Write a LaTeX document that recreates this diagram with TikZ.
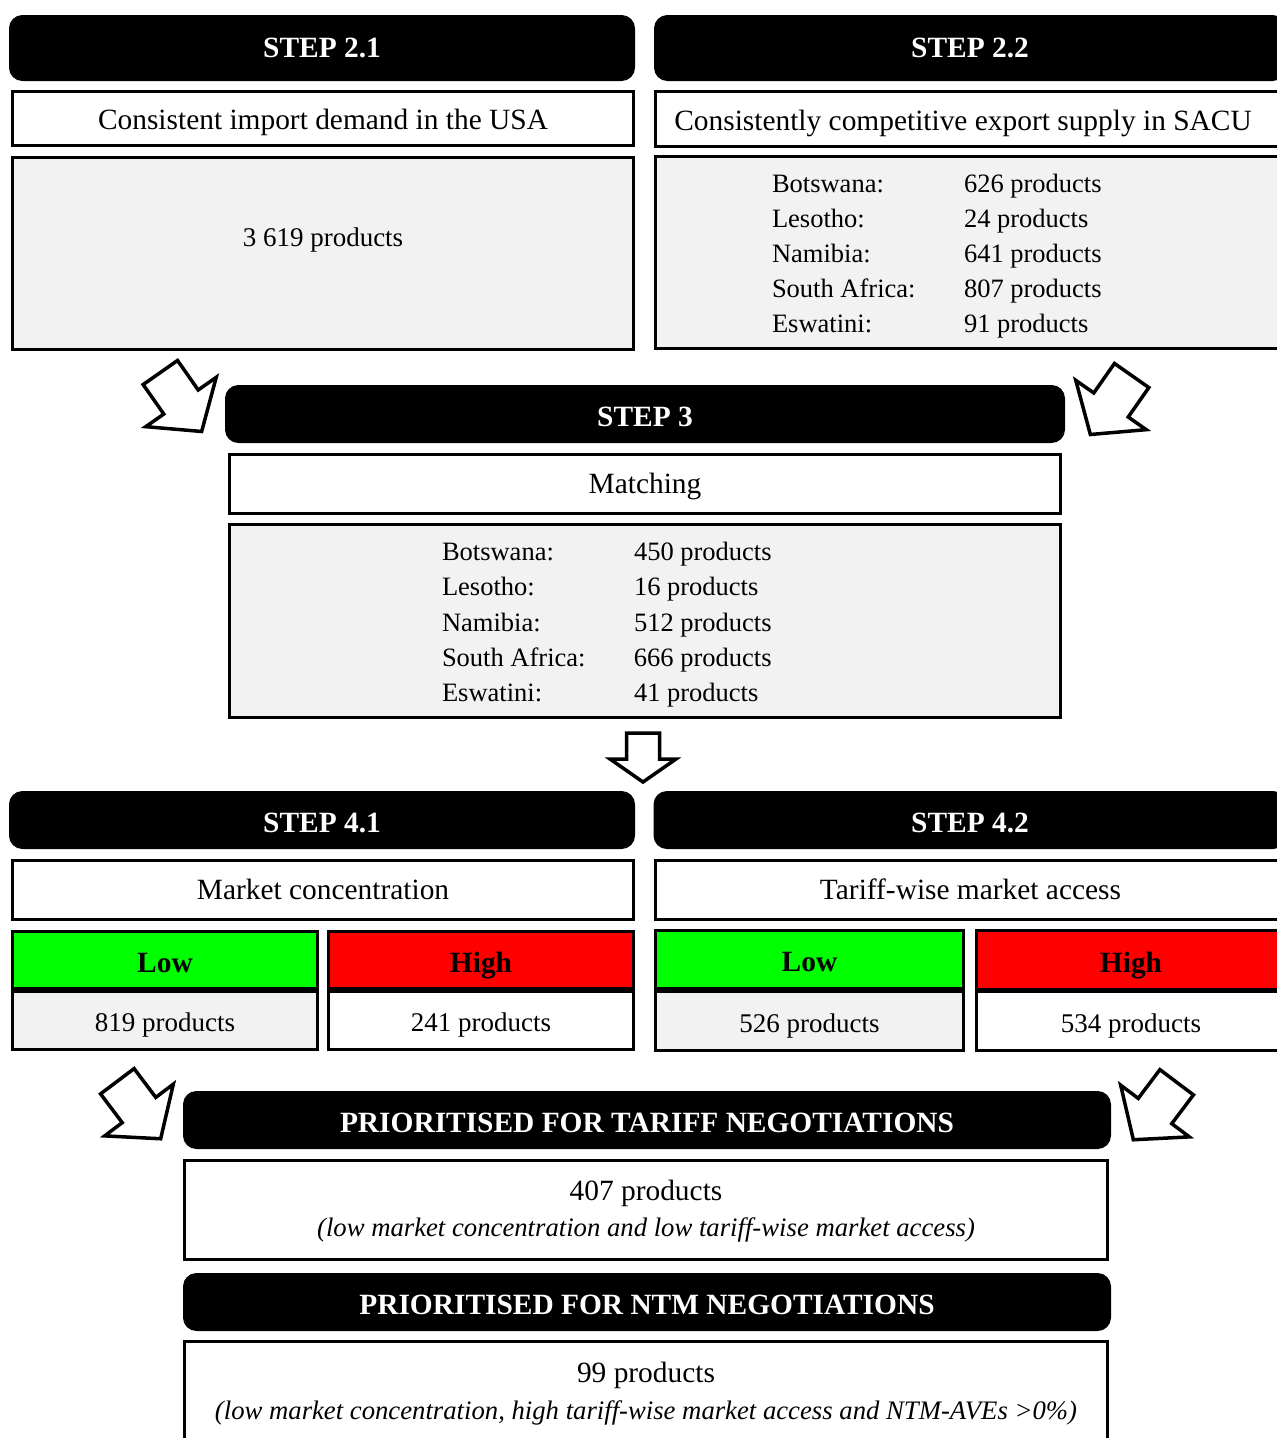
\documentclass[tikz,border=0pt]{standalone}
\usepackage{fontspec}
\setmainfont{Liberation Serif}
\definecolor{boxgrey}{HTML}{F2F2F2}
\definecolor{lowgreen}{HTML}{00FF00}
\definecolor{highred}{HTML}{FF0000}
\begin{document}
\begin{tikzpicture}[x=1pt,y=-1pt,
  every node/.style={inner sep=0pt, outer sep=0pt},
  header/.style={fill=black, draw=black, line width=1pt, rounded corners=13pt,
    text=white, font=\fontsize{29.4}{34}\selectfont\bfseries,
    text height=25.5pt, text depth=0pt},
  box/.style={draw=black, line width=3pt, fill=white,
    font=\fontsize{29.4}{34}\selectfont, text height=22pt, text depth=4pt},
  greybox/.style={box, fill=boxgrey},
  countbox/.style={box, font=\fontsize{27}{32}\selectfont, text height=26pt},
  greycount/.style={countbox, fill=boxgrey},
  lowbox/.style={box, fill=lowgreen, font=\fontsize{29.4}{34}\selectfont\bfseries, text height=28pt},
  highbox/.style={box, fill=highred, font=\fontsize{29.4}{34}\selectfont\bfseries, text height=28pt},
  plain/.style={font=\fontsize{27}{32}\selectfont},
  bigplain/.style={font=\fontsize{29.4}{34}\selectfont},
  note/.style={font=\fontsize{26.7}{30}\selectfont\itshape},
  list/.style={anchor=west, font=\fontsize{26.5}{35.2}\selectfont},
  arrowline/.style={draw=black, fill=white, line width=3.5pt, line join=miter},
  pics/bigarrow/.style={code={
    \draw[arrowline] (-21,-36) -- (21,-36) -- (21,0) -- (43,0) -- (0,36)
      -- (-43,0) -- (-21,0) -- cycle;}},
  pics/smallarrow/.style={code={
    \draw[arrowline] (-16.5,-25) -- (16.5,-25) -- (16.5,1) -- (33,1) -- (0,24)
      -- (-33,1) -- (-16.5,1) -- cycle;}}
]
\useasboundingbox (0,0) rectangle (1277,1438);
\clip (0,0) rectangle (1277,1438);

% ---- Step 2.1 / 2.2 ----
\node[header, minimum width=625pt, minimum height=65pt, text height=18pt] (h21) at (322,48) {STEP 2.1};
\node[header, minimum width=631pt, minimum height=65pt, text height=18pt] (h22) at (970,48) {STEP 2.2};
\node[box, minimum width=621pt, minimum height=54pt, text height=26pt] (s21) at (323,118.5) {Consistent import demand in the USA};
\node[box, minimum width=630pt, minimum height=55pt] (s22) at (970.5,119) {};
\node[bigplain, text height=26pt, text depth=4pt] (t22) at (963,119) {Consistently competitive export supply in SACU};
\node[greybox, minimum width=621pt, minimum height=192pt] (c21) at (323,253.5) {};
\node[plain] (t21) at (323,240) {3 619 products};
\node[greybox, minimum width=630pt, minimum height=192pt] (c22) at (970.5,252.5) {};
\node[list] (l22) at (772,255.5) {\begin{tabular}{@{}p{192pt}@{}l@{}}
  Botswana: & 626 products\\
  Lesotho: & 24 products\\
  Namibia: & 641 products\\
  South Africa: & 807 products\\
  Eswatini: & 91 products
\end{tabular}};

% ---- arrows into step 3 ----
\pic[rotate=35] (aUL) at (181,402) {bigarrow};
\pic[rotate=-35] (aUR) at (1111,405) {bigarrow};

% ---- Step 3 ----
\node[header, minimum width=839pt, minimum height=57pt] (h3) at (645,414) {STEP 3};
\node[box, minimum width=831pt, minimum height=59pt] (s3) at (645,484) {Matching};
\node[greybox, minimum width=831pt, minimum height=193pt] (c3) at (645,621) {};
\node[list] (l3) at (442,624) {\begin{tabular}{@{}p{192pt}@{}l@{}}
  Botswana: & 450 products\\
  Lesotho: & 16 products\\
  Namibia: & 512 products\\
  South Africa: & 666 products\\
  Eswatini: & 41 products
\end{tabular}};

\pic (aM) at (643,758) {smallarrow};

% ---- Step 4.1 / 4.2 ----
\node[header, minimum width=625pt, minimum height=57pt] (h41) at (322,820) {STEP 4.1};
\node[header, minimum width=632pt, minimum height=57pt] (h42) at (970,820) {STEP 4.2};
\node[box, minimum width=621pt, minimum height=59pt] (s41) at (323,890) {Market concentration};
\node[box, minimum width=630pt, minimum height=59pt] (s42) at (970.5,890) {Tariff-wise market access};

\node[lowbox, minimum width=305pt, minimum height=57pt] (low41) at (165,960) {Low};
\node[greycount, minimum width=305pt, minimum height=58pt] (n41a) at (165,1020.5) {819 products};
\node[highbox, minimum width=305pt, minimum height=57pt] (high41) at (481,960) {High};
\node[countbox, minimum width=305pt, minimum height=58pt] (n41b) at (481,1020.5) {241 products};

\node[lowbox, minimum width=308pt, minimum height=58pt] (low42) at (809.5,959.5) {Low};
\node[greycount, minimum width=308pt, minimum height=59pt] (n42a) at (809.5,1021) {526 products};
\node[highbox, minimum width=309pt, minimum height=59pt] (high42) at (1131,960) {High};
\node[countbox, minimum width=309pt, minimum height=59pt] (n42b) at (1131,1021) {534 products};

% ---- arrows into prioritisation ----
\pic[rotate=37] (aLL) at (139,1110) {bigarrow};
\pic[rotate=-37] (aLR) at (1155,1111) {bigarrow};

% ---- Prioritisation ----
\node[header, minimum width=927pt, minimum height=57pt] (hT) at (647,1120) {PRIORITISED FOR TARIFF NEGOTIATIONS};
\node[box, minimum width=923pt, minimum height=99pt] (bT) at (646,1210) {};
\node[bigplain] (tT1) at (646,1193) {407 products};
\node[note] (tT2) at (646,1230) {(low market concentration and low tariff-wise market access)};

\node[header, minimum width=927pt, minimum height=57pt] (hN) at (647,1302) {PRIORITISED FOR NTM NEGOTIATIONS};
\node[box, minimum width=923pt, minimum height=104pt] (bN) at (646,1393) {};
\node[bigplain] (tN1) at (646,1375) {99 products};
\node[note] (tN2) at (646,1413) {(low market concentration, high tariff-wise market access and NTM-AVEs {>}0\%)};
\end{tikzpicture}
\end{document}
